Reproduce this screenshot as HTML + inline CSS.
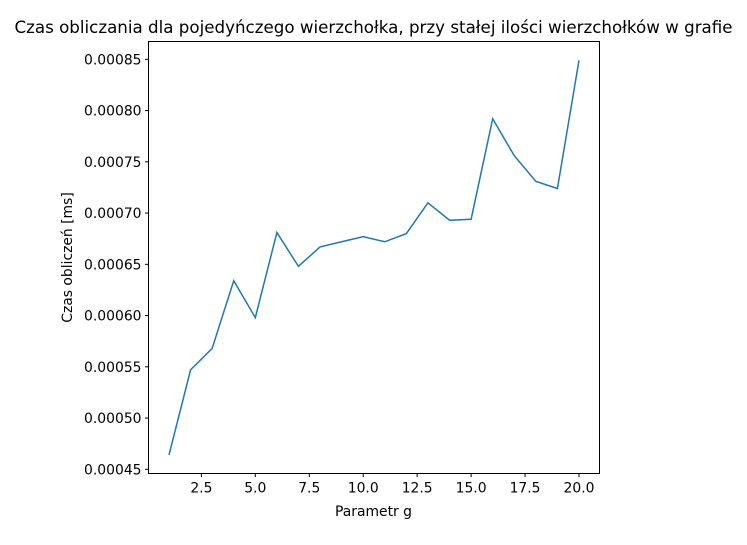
<!DOCTYPE html>
<html><head><meta charset="utf-8"><style>
body{margin:0;background:#fff;}
svg text{font-family:"DejaVu Sans","Liberation Sans",sans-serif;fill:#000;}
</style></head><body>
<svg id="chart" width="747" height="540" viewBox="0 0 747 540">
<text x="373.5" y="33" font-size="16.7" text-anchor="middle">Czas obliczania dla pojedyńczego wierzchołka, przy stałej ilości wierzchołków w grafie</text>
<g id="axes"></g>
<text x="373.5" y="516" font-size="13.9" text-anchor="middle">Parametr g</text>
<text transform="translate(72,257.5) rotate(-90)" font-size="13.9" text-anchor="middle">Czas obliczeń [ms]</text>
</svg>
<script>
const xs=[1,2,3,4,5,6,7,8,9,10,11,12,13,14,15,16,17,18,19,20];
const ys=[0.000464,0.000547,0.000568,0.000634,0.000598,0.000681,0.000648,0.000667,0.000672,0.000677,0.000672,0.000680,0.000710,0.000693,0.000694,0.000792,0.000756,0.000731,0.000724,0.000849];
const xTicks=[2.5,5.0,7.5,10.0,12.5,15.0,17.5,20.0];
const yTicks=[0.00045,0.0005,0.00055,0.0006,0.00065,0.0007,0.00075,0.0008,0.00085];
const L=148.5,R=599.5,T=41.5,B=473.5;
const xmin=0.05,xmax=20.95,ymin=0.0004459,ymax=0.0008674;
const sx=v=>L+(v-xmin)/(xmax-xmin)*(R-L);
const sy=v=>B-(v-ymin)/(ymax-ymin)*(B-T);
const NS="http://www.w3.org/2000/svg";
const g=document.getElementById('axes');
function mk(t,a){const e=document.createElementNS(NS,t);for(const k in a)e.setAttribute(k,a[k]);g.appendChild(e);return e;}
let p=mk('polyline',{points:xs.map((x,i)=>sx(x)+','+sy(ys[i])).join(' '),fill:'none',stroke:'#1f77b4','stroke-width':1.5});


let fr=mk('rect',{x:L,y:T,width:R-L,height:B-T,fill:'none',stroke:'#000','stroke-width':1});


xTicks.forEach(v=>{const x=sx(v);
 let t=mk('line',{x1:x,x2:x,y1:B,y2:B+3.5,stroke:'#000'});
 
 
 let l=mk('text',{x:x,y:B+19,'font-size':13.9,'text-anchor':'middle'});l.textContent=v.toFixed(1);
 
 });
yTicks.forEach(v=>{const y=sy(v);
 let t=mk('line',{x1:L-3.5,x2:L,y1:y,y2:y,stroke:'#000'});
 
 
 let l=mk('text',{x:L-7,y:y+5,'font-size':13.9,'text-anchor':'end'});l.textContent=v.toFixed(5);
 
 });
</script>
</body></html>
